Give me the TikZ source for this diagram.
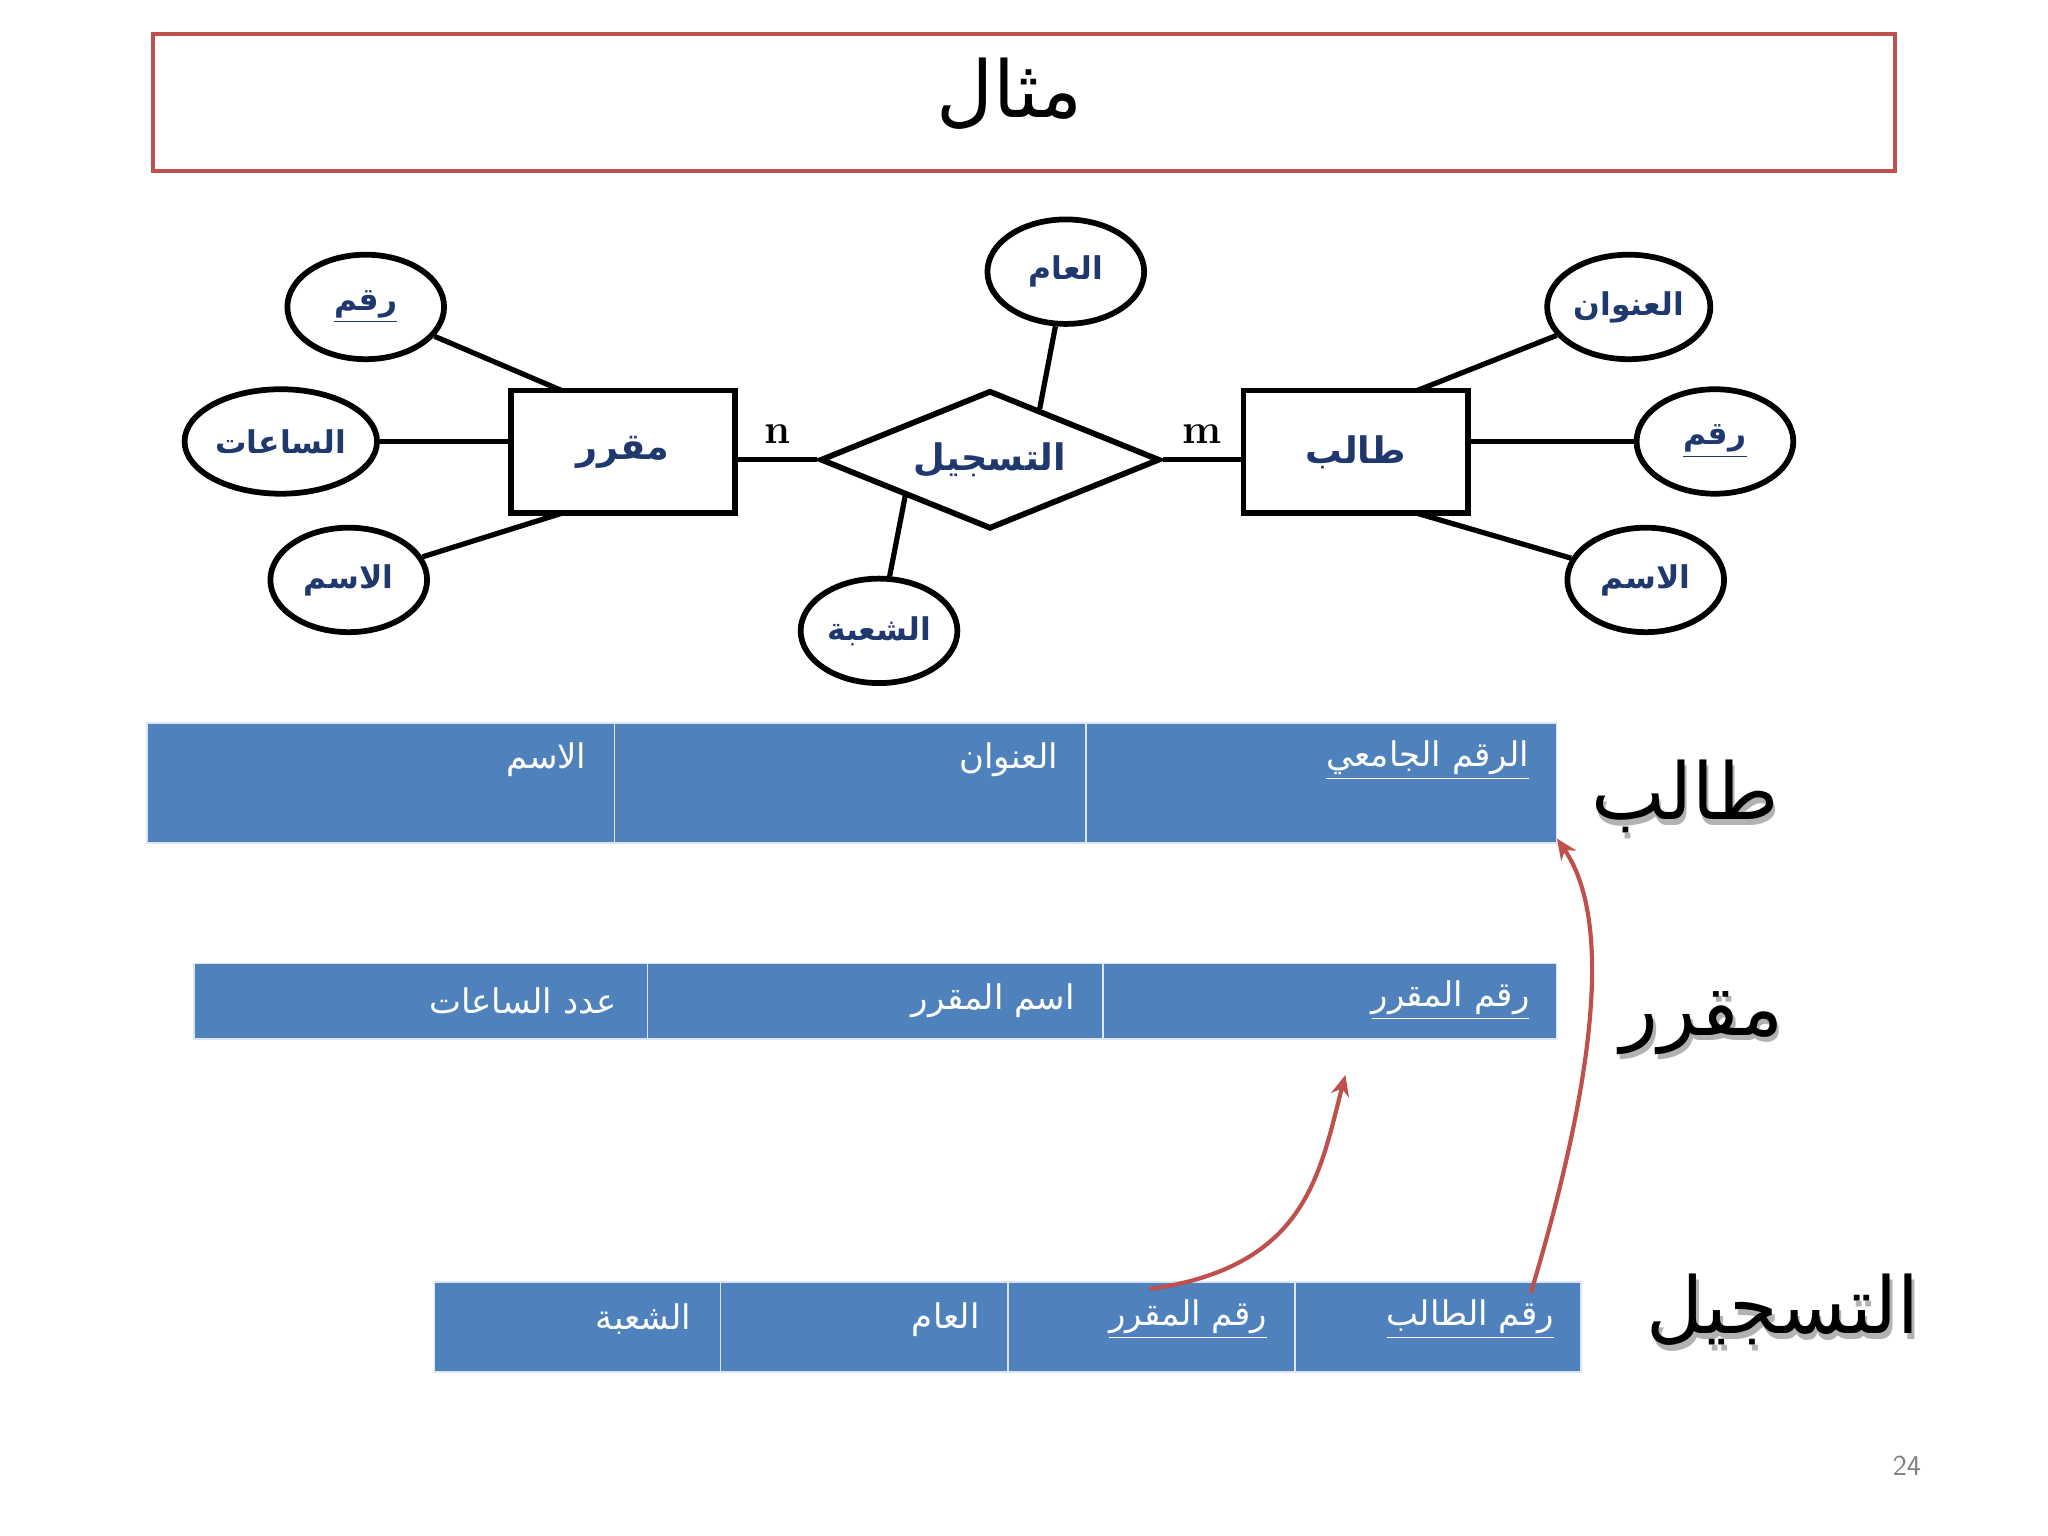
\documentclass[tikz,border=0pt]{standalone}
\usepackage{fontspec}
\usetikzlibrary{shapes.geometric,arrows.meta}
\TeXXeTstate=1
\newfontfamily\arabicfont[Script=Arabic]{DejaVu Sans}
\newcommand{\ar}[1]{{\arabicfont\beginR #1\endR}}
\newcommand{\aru}[1]{\underline{\hbox{\ar{#1}}}}
\definecolor{redb}{RGB}{192,80,77}
\definecolor{tblue}{RGB}{79,129,189}
\definecolor{dblue}{RGB}{31,56,110}
\tikzset{
 ent/.style={draw,line width=2.2pt,minimum width=86pt,minimum height=47pt,text=dblue,font=\bfseries\fontsize{14}{16}\selectfont},
 att/.style={draw,ellipse,line width=2.2pt,minimum width=60pt,minimum height=40pt,inner sep=1pt,text=dblue,font=\bfseries\fontsize{12}{14}\selectfont},
 rel/.style={draw,diamond,aspect=2.45,line width=2.2pt,minimum width=130pt,minimum height=53pt,inner sep=0pt,text=dblue,font=\bfseries\fontsize{14}{16}\selectfont},
 con/.style={line width=2pt},
 cell/.style={fill=tblue,draw=white!80!tblue,line width=0.6pt,anchor=north west},
 ctext/.style={text=white,anchor=east,font=\fontsize{13}{15}\selectfont},
 big/.style={font=\fontsize{30}{34}\selectfont},
 rarr/.style={draw=redb,line width=1.6pt,-{Stealth[length=8pt,width=7pt]}}
}
\begin{document}
\begin{tikzpicture}[x=0.5pt,y=-0.5pt]
\useasboundingbox (0,0) rectangle (1568,1176);
\fill[white] (0,0) rectangle (1568,1176);
% title
\draw[redb,line width=1.5pt] (117,26) rectangle (1451,131);
\node[big] (title) at (773,72) {\ar{مثال}};
% ER
\node[ent] (mq) at (477,346) {\ar{مقرر}};
\node[ent] (tl) at (1038,346) {\ar{طالب}};
\node[rel] (ts) at (758,352) {\ar{التسجيل}};
\node[att] (a1) at (280,235) {\aru{رقم}};
\node[att] (a2) at (215,338) {\ar{الساعات}};
\node[att] (a3) at (267,444) {\ar{الاسم}};
\node[att] (a4) at (816,208) {\ar{العام}};
\node[att] (a5) at (673,483) {\ar{الشعبة}};
\node[att] (a6) at (1247,235) {\ar{العنوان}};
\node[att] (a7) at (1313,338) {\aru{رقم}};
\node[att] (a8) at (1260,444) {\ar{الاسم}};
\coordinate (mqt) at (430,299); \coordinate (mqb) at (430,393);
\coordinate (tlt) at (1085,299); \coordinate (tlb) at (1085,393);
\draw[con] (a1) -- (mqt);
\draw[con] (a2.east) -- (mq.west|-a2.east);
\draw[con] (a3) -- (mqb);
\draw[con] (ts.west) -- (mq.east|-ts.west) node[pos=0.5,above=2pt,font=\bfseries\fontsize{16}{18}\selectfont] (nl) {n};
\draw[con] (ts.east) -- (tl.west|-ts.east) node[pos=0.5,above=2pt,font=\bfseries\fontsize{16}{18}\selectfont] (ml) {m};
\coordinate (tsa) at (796,313); \coordinate (tsb) at (693,380);
\draw[con] (a4) -- (tsa);
\draw[con] (a5) -- (tsb);
\draw[con] (a6) -- (tlt);
\draw[con] (a7.west) -- (tl.east|-a7.west);
\draw[con] (a8) -- (tlb);
% tables
\node[cell,minimum width=179pt,minimum height=46pt] (s1) at (112,553) {};
\node[cell,minimum width=180.5pt,minimum height=46pt] (s2) at (470,553) {};
\node[cell,minimum width=180pt,minimum height=46pt] (s3) at (831,553) {};
\node[ctext] (s1t) at (456,582) {\ar{الاسم}};
\node[ctext] (s2t) at (817,582) {\ar{العنوان}};
\node[ctext] (s3t) at (1178,582) {\aru{الرقم الجامعي}};
\node[cell,minimum width=173.5pt,minimum height=29pt] (c1) at (148,737) {};
\node[cell,minimum width=174.5pt,minimum height=29pt] (c2) at (495,737) {};
\node[cell,minimum width=173.5pt,minimum height=29pt] (c3) at (844,737) {};
\node[ctext] (c1t) at (479,766) {\ar{عدد الساعات}};
\node[ctext] (c2t) at (830,766) {\ar{اسم المقرر}};
\node[ctext] (c3t) at (1178,766) {\aru{رقم المقرر}};
\node[cell,minimum width=109.5pt,minimum height=34.5pt] (r1) at (332,981) {};
\node[cell,minimum width=110pt,minimum height=34.5pt] (r2) at (551,981) {};
\node[cell,minimum width=110pt,minimum height=34.5pt] (r3) at (771,981) {};
\node[cell,minimum width=109.5pt,minimum height=34.5pt] (r4) at (991,981) {};
\node[ctext] (r1t) at (536,1010) {\ar{الشعبة}};
\node[ctext] (r2t) at (757,1010) {\ar{العام}};
\node[ctext] (r3t) at (977,1010) {\aru{رقم المقرر}};
\node[ctext] (r4t) at (1197,1010) {\aru{رقم الطالب}};
% labels
\node[big,text=gray!60] at (1292,614) {\ar{طالب}};
\node[big] (lt) at (1290,610) {\ar{طالب}};
\node[big,text=gray!60] at (1305,787) {\ar{مقرر}};
\node[big] (lm) at (1303,783) {\ar{مقرر}};
\node[big,text=gray!60] at (1367,1007) {\ar{التسجيل}};
\node[big] (lr) at (1365,1003) {\ar{التسجيل}};
% arrows
\coordinate (p1) at (1172,990); \coordinate (p2) at (1192,642);
\coordinate (q1) at (880,987); \coordinate (q2) at (1030,823);
\draw[rarr] (p1) .. controls (1235,780) and (1225,690) .. (p2);
\draw[rarr] (q1) .. controls (1000,970) and (1010,900) .. (q2);
\node[text=gray,font=\sffamily\fontsize{11}{13}\selectfont] (pg) at (1460,1122) {24};
\end{tikzpicture}
\end{document}
